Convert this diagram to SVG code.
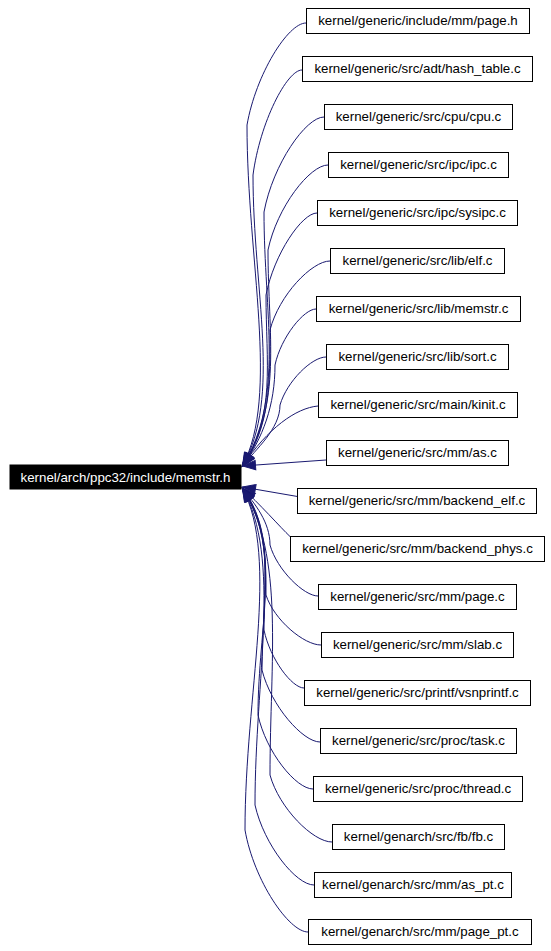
<svg xmlns="http://www.w3.org/2000/svg" width="551" height="951" viewBox="0 0 551 951">
<style>
.n rect{fill:#fff;stroke:#000;stroke-width:1}
.n text{font-family:"Liberation Sans",Arial,Helvetica,sans-serif;font-size:13.3px;text-anchor:middle;fill:#000}
#main rect{fill:#000;stroke:#000}
#main text{fill:#fff}
#edges path{fill:none;stroke:#191970;stroke-width:1;marker-end:url(#arr)}
</style>
<defs>
<marker id="arr" markerUnits="userSpaceOnUse" markerWidth="14" markerHeight="10" refX="13" refY="5" orient="auto" overflow="visible">
<path d="M0,0.3 L13,5 L0,9.7 z" fill="#191970" stroke="#191970" stroke-width="1"/>
</marker>
</defs>
<rect width="551" height="951" fill="#fff"/>
<g id="edges">
<path d="M306,23 C288,23 256,74 247,125 C247,261 280,395 242.5,466"/>
<path d="M302,70 C287,70 260,122 253,175 C253,291 282,397 242.5,466"/>
<path d="M324,117 C306,117 273,164 264,212 C264,314 285,398 242.5,466"/>
<path d="M328,165 C310,165 277,207 268,250 C268,336 283,403 242.5,466"/>
<path d="M317,213 C302,213 274,254 266,295 C266,363 276,416 242.5,466"/>
<path d="M330,261 C312,261 279,295 270,330 C270,384 270,427 242.5,466"/>
<path d="M316,309 C304,309 281,337 275,365 C275,405 263,438 242.5,466"/>
<path d="M326,357 C312,357 287,381 280,405 C280,429 256,449 242.5,466"/>
<path d="M318,406 C296,408 268,428 242.5,466"/>
<path d="M326,460 L242.5,466"/>
<path d="M297.5,496.5 L242.5,487"/>
<path d="M290,536.5 C281,528 258,502 242.5,488.5"/>
<path d="M318,596 C304,596 277,570 270,545 C270,522 255,504 242.5,488.5"/>
<path d="M321,645 C304,645 274,620 266,595 C266,552 265,518 242.5,488.5"/>
<path d="M304,688 C292,688 270,659 264,630 C264,573 272,529 242.5,488.5"/>
<path d="M320,742 C303,742 271,706 262,670 C262,597 277,540 242.5,488.5"/>
<path d="M313,789 C296,789 266,752 258,715 C258,624 283,551 242.5,488.5"/>
<path d="M332,842 C313,842 279,808 270,775 C270,660 285,556 242.5,488.5"/>
<path d="M314,885 C296,885 264,845 255,805 C255,678 282,558 242.5,488.5"/>
<path d="M308,932 C289,932 254,881 245,830 C245,693 280,559 242.5,488.5"/>
</g>
<g id="main" class="n"><rect x="10" y="465" width="231" height="24"/><text x="125.5" y="481.5">kernel/arch/ppc32/include/memstr.h</text></g>
<g id="n0" class="n"><rect x="306.5" y="8.5" width="223" height="25"/><text x="418" y="25.2">kernel/generic/include/mm/page.h</text></g>
<g id="n1" class="n"><rect x="302.5" y="56.5" width="230" height="25"/><text x="417.5" y="73.2">kernel/generic/src/adt/hash_table.c</text></g>
<g id="n2" class="n"><rect x="324.5" y="104.5" width="188" height="25"/><text x="418.5" y="121.2">kernel/generic/src/cpu/cpu.c</text></g>
<g id="n3" class="n"><rect x="328.5" y="152.5" width="180" height="25"/><text x="418.5" y="169.2">kernel/generic/src/ipc/ipc.c</text></g>
<g id="n4" class="n"><rect x="317.5" y="200.5" width="200" height="25"/><text x="417.5" y="217.2">kernel/generic/src/ipc/sysipc.c</text></g>
<g id="n5" class="n"><rect x="330.5" y="248.5" width="174" height="25"/><text x="417.5" y="265.2">kernel/generic/src/lib/elf.c</text></g>
<g id="n6" class="n"><rect x="316.5" y="296.5" width="204" height="25"/><text x="418.5" y="313.2">kernel/generic/src/lib/memstr.c</text></g>
<g id="n7" class="n"><rect x="326.5" y="344.5" width="182" height="25"/><text x="417.5" y="361.2">kernel/generic/src/lib/sort.c</text></g>
<g id="n8" class="n"><rect x="318.5" y="392.5" width="199" height="25"/><text x="418" y="409.2">kernel/generic/src/main/kinit.c</text></g>
<g id="n9" class="n"><rect x="326.5" y="440.5" width="182" height="25"/><text x="417.5" y="457.2">kernel/generic/src/mm/as.c</text></g>
<g id="n10" class="n"><rect x="297.5" y="488.5" width="239" height="25"/><text x="417" y="505.2">kernel/generic/src/mm/backend_elf.c</text></g>
<g id="n11" class="n"><rect x="290.5" y="536.5" width="254" height="25"/><text x="417.5" y="553.2">kernel/generic/src/mm/backend_phys.c</text></g>
<g id="n12" class="n"><rect x="318.5" y="584.5" width="198" height="25"/><text x="417.5" y="601.2">kernel/generic/src/mm/page.c</text></g>
<g id="n13" class="n"><rect x="321.5" y="632.5" width="192" height="25"/><text x="417.5" y="649.2">kernel/generic/src/mm/slab.c</text></g>
<g id="n14" class="n"><rect x="304.5" y="680.5" width="226" height="25"/><text x="417.5" y="697.2">kernel/generic/src/printf/vsnprintf.c</text></g>
<g id="n15" class="n"><rect x="320.5" y="728.5" width="196" height="25"/><text x="418.5" y="745.2">kernel/generic/src/proc/task.c</text></g>
<g id="n16" class="n"><rect x="313.5" y="776.5" width="209" height="25"/><text x="418" y="793.2">kernel/generic/src/proc/thread.c</text></g>
<g id="n17" class="n"><rect x="332.5" y="824.5" width="172" height="25"/><text x="418.5" y="841.2">kernel/genarch/src/fb/fb.c</text></g>
<g id="n18" class="n"><rect x="314.5" y="872.5" width="197" height="25"/><text x="413" y="889.2">kernel/genarch/src/mm/as_pt.c</text></g>
<g id="n19" class="n"><rect x="308.5" y="919.5" width="223" height="25"/><text x="420" y="936.2">kernel/genarch/src/mm/page_pt.c</text></g>
</svg>
